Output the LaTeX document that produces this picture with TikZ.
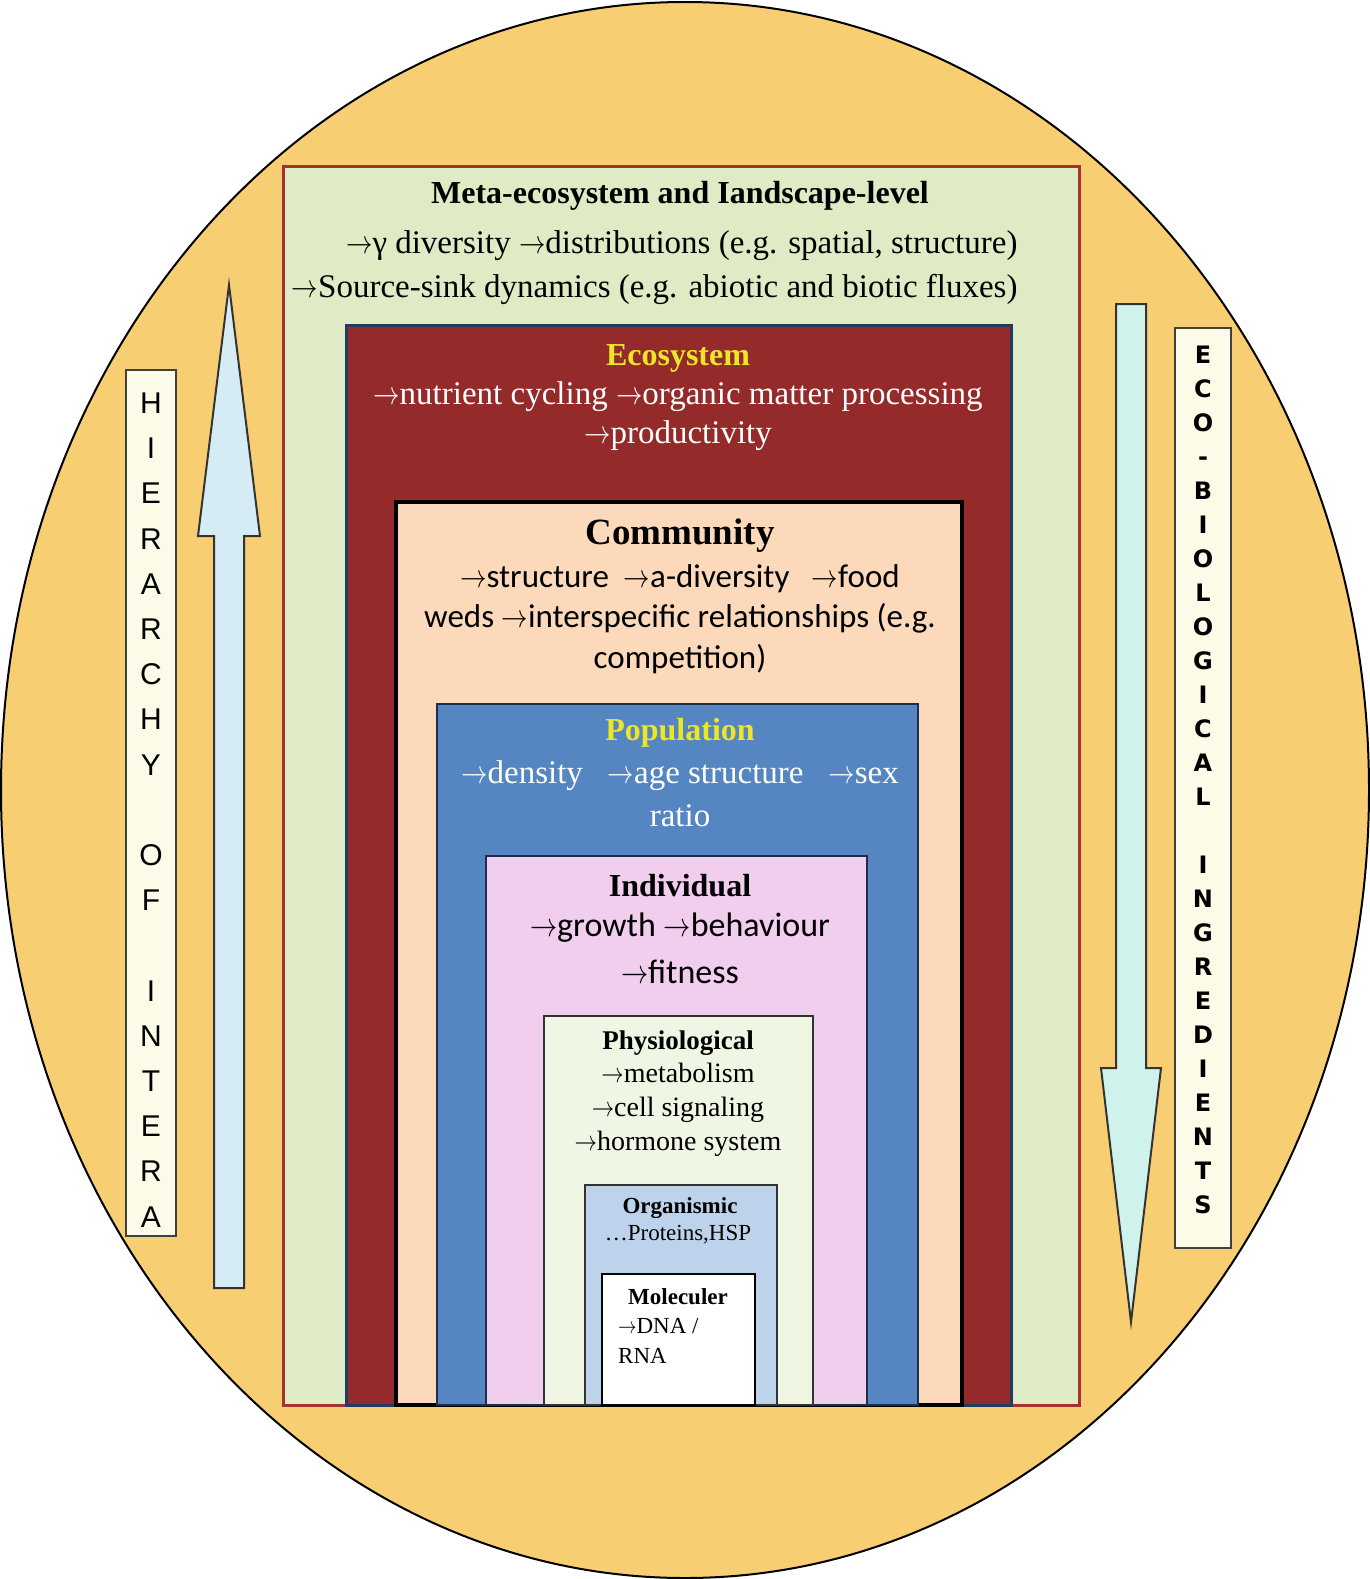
\RequirePackage{fix-cm}
\documentclass[tikz,border=0pt]{standalone}
\usepackage{graphicx}
\usepackage{fontspec}
\setmainfont{Liberation Serif}
\newfontfamily\calfont{Carlito}
\newfontfamily\sidefont{Liberation Sans}
\newfontfamily\sidefontb{DejaVu Sans}
\newcommand{\rarr}{\scalebox{0.8}[1]{$\rightarrow$}}

\definecolor{eggbg}{RGB}{248,206,115}
\definecolor{metafill}{RGB}{222,235,197}
\definecolor{metaline}{RGB}{166,50,48}
\definecolor{ecofill}{RGB}{148,42,42}
\definecolor{ecoline}{RGB}{32,58,100}
\definecolor{comfill}{RGB}{252,217,186}
\definecolor{popfill}{RGB}{85,134,193}
\definecolor{popline}{RGB}{30,45,75}
\definecolor{indfill}{RGB}{241,206,238}
\definecolor{phyfill}{RGB}{239,247,228}
\definecolor{orgfill}{RGB}{189,211,235}
\definecolor{titleyellow}{RGB}{236,230,40}
\definecolor{sidefill}{RGB}{252,251,232}
\definecolor{upfill}{RGB}{214,236,245}
\definecolor{downfill}{RGB}{208,242,236}

\begin{document}
\begin{tikzpicture}[x=1pt,y=-1pt,
  hd/.style={font=\bfseries\fontsize{32}{40}\selectfont},
  tnr/.style={align=center, font=\fontsize{33}{44}\selectfont},
  cal/.style={align=center, font=\calfont\fontsize{33}{40.5}\selectfont},
  sidebox/.style={fill=sidefill, draw=black!75, line width=2},
  bigarrow/.style={draw=black!80, line width=2, line join=miter}]
\useasboundingbox (0,0) rectangle (1370,1579);

% background egg
\draw [fill=eggbg, line width=2] (685,790) ellipse [x radius=684, y radius=788];

% nested levels
\draw [fill=metafill, draw=metaline, line width=3] (283,166) rectangle (1079,1405);
\draw [fill=ecofill, draw=ecoline, line width=3] (346,325) rectangle (1011,1405);
\draw [fill=comfill, draw=black, line width=4] (396,502) rectangle (962,1405);
\draw [fill=popfill, draw=popline, line width=2] (437,704) rectangle (918,1405);
\draw [fill=indfill, draw=popline, line width=2] (486,856) rectangle (867,1405);
\draw [fill=phyfill, draw=black!80, line width=1.5] (544,1016) rectangle (813,1405);
\draw [fill=orgfill, draw=black!80, line width=1.5] (585,1185) rectangle (777,1405);
\draw [fill=white, draw=black, line width=1.5] (602,1274) rectangle (755,1405);

% texts
\node (metatitle) [hd] at (680,196) {Meta-ecosystem and Iandscape-level};
\node (metatext) [tnr, align=right, anchor=east] at (1021,268) {\rarr γ diversity \rarr distributions (e.g. spatial, structure)\\
  \rarr Source-sink dynamics (e.g. abiotic and biotic fluxes)};

\node (ecotitle) [hd, text=titleyellow] at (678,358) {Ecosystem};
\node (ecotext) [tnr, text=white, font=\fontsize{33}{39}\selectfont] at (678,416) {\rarr nutrient cycling \rarr organic matter processing\\
  \rarr productivity};

\node (comtitle) [font=\bfseries\fontsize{37}{44}\selectfont] at (680,536) {Community};
\node (comtext) [cal] at (680,619) {\rarr structure\ \ \rarr a-diversity\ \ \ \rarr food\\
  weds \rarr interspecific relationships (e.g.\\
  competition)};

\node (poptitle) [hd, text=titleyellow] at (680,733) {Population};
\node (poptext) [tnr, text=white, font=\fontsize{33}{43}\selectfont] at (680,794) {\rarr density\ \ \ \rarr age structure\ \ \ \rarr sex\\
  ratio};

\node (indtitle) [hd] at (680,886) {Individual};
\node (indtext) [cal, font=\calfont\fontsize{34}{47}\selectfont] at (680,948) {\rarr growth \rarr behaviour\\
  \rarr fitness};

\node (phytitle) [font=\bfseries\fontsize{27}{34}\selectfont] at (678,1043) {Physiological};
\node (phytext) [tnr, font=\fontsize{28}{34}\selectfont] at (678,1110) {\rarr metabolism\\
  \rarr cell signaling\\
  \rarr hormone system};

\node (orgtitle) [font=\bfseries\fontsize{23}{28}\selectfont] at (680,1208) {Organismic};
\node (orgtext) [font=\fontsize{23}{28}\selectfont] at (678,1235) {\ldots Proteins,HSP};

\node (moltitle) [font=\bfseries\fontsize{23}{28}\selectfont] at (678,1297) {Moleculer};
\node (moltext) [align=left, anchor=west, inner sep=0pt, font=\fontsize{23}{30}\selectfont] at (618,1341) {\rarr DNA /\\
  RNA};

% side labels
\draw [sidebox] (126,370) rectangle (176,1236);
\node (hiertext) [align=center, font=\sidefont\fontsize{30}{45.2}\selectfont] at (151,810) {H\\I\\E\\R\\A\\R\\C\\H\\Y\\~\\O\\F\\~\\I\\N\\T\\E\\R\\A};

\draw [sidebox] (1175,328) rectangle (1231,1248);
\node (ingrtext) [align=center, font=\sidefontb\bfseries\fontsize{24}{34}\selectfont] at (1203,780) {E\\C\\O\\-\\B\\I\\O\\L\\O\\G\\I\\C\\A\\L\\~\\I\\N\\G\\R\\E\\D\\I\\E\\N\\T\\S};

% big arrows
\draw [bigarrow, fill=upfill] (214,1288) -- (214,536) -- (198,536) -- (229,285) -- (260,536) -- (244,536) -- (244,1288) -- cycle;
\draw [bigarrow, fill=downfill] (1116,304) -- (1116,1068) -- (1101,1068) -- (1131,1322) -- (1161,1068) -- (1146,1068) -- (1146,304) -- cycle;
\end{tikzpicture}
\end{document}
